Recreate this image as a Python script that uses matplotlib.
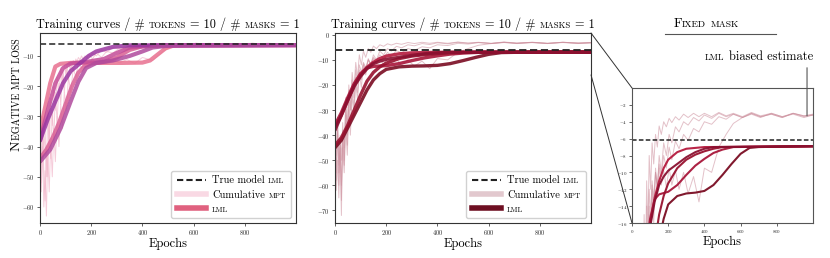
import numpy as np
import matplotlib
matplotlib.use("Agg")
import matplotlib.pyplot as plt
from matplotlib.lines import Line2D
from matplotlib.patches import ConnectionPatch
from matplotlib.offsetbox import TextArea, HPacker, DrawingArea, AnchoredOffsetbox

plt.rcParams['font.family'] = ['cmr10', 'DejaVu Serif']
plt.rcParams['mathtext.fontset'] = 'cm'
plt.rcParams['axes.formatter.use_mathtext'] = True

# ---------------- dati ----------------
true_lml = -6.2

# curve LML, pannello 1
lml1_ep = [[0, 20, 40, 60, 80, 120, 180, 250, 320, 400, 430, 460, 490, 520, 600, 999],
           [0, 25, 50, 75, 100, 125, 150, 175, 200, 250, 300, 350, 400, 500, 999],
           [0, 30, 60, 90, 120, 180, 250, 300, 350, 450, 999],
           [0, 30, 60, 90, 120, 155, 190, 220, 285, 350, 999],
           [0, 40, 80, 120, 150, 180, 220, 285, 350, 400, 440, 500, 999]]
lml1_val = [[-35, -27, -19, -13.5, -12.6, -12.3, -12.2, -12.3, -12.3, -12.2, -11.5, -9.5, -7.5, -6.6, -6.4, -6.4],
            [-44, -41, -37, -32, -26, -20, -15.5, -13.3, -12.5, -12, -10.5, -8, -6.8, -6.5, -6.4],
            [-38, -28, -19, -14, -12.5, -12, -11, -9, -7.2, -6.5, -6.4],
            [-38, -31, -25, -19, -15, -12.5, -10, -8.5, -7, -6.5, -6.4],
            [-45, -41, -34, -25, -18.5, -14, -12.3, -11.5, -10, -8.5, -7.2, -6.6, -6.4]]
lml1_col = ['#e8708f', '#d95f93', '#c44c98', '#9a36a0', '#b04a9c']

# curve LML, pannello 2 (e zoom)
lml2_ep = [[0, 25, 50, 75, 100, 125, 150, 175, 200, 250, 300, 350, 400, 999],
           [0, 25, 50, 75, 100, 125, 150, 200, 250, 300, 350, 400, 450, 500, 560, 999],
           [0, 25, 50, 75, 100, 125, 150, 175, 200, 250, 300, 350, 400, 450, 500, 550, 600, 650, 700, 999],
           [0, 25, 50, 75, 100, 125, 150, 175, 200, 250, 300, 350, 400, 450, 500, 999],
           [0, 25, 50, 75, 100, 125, 150, 175, 200, 250, 300, 350, 400, 450, 999]]
lml2_val = [[-37, -32, -26, -20, -16, -13, -11, -9.5, -8.5, -7.6, -7.2, -7.1, -7.0, -6.9],
            [-36, -31, -25, -19.5, -15.5, -13.2, -12.6, -12.3, -11.5, -10.3, -9.2, -8.4, -7.7, -7.3, -7.0, -6.9],
            [-45, -42, -37, -32, -27, -22, -18, -15.5, -13.8, -12.8, -12.5, -12.4, -12.2, -11.5, -10.3, -9, -7.8, -7.1, -7.0, -6.9],
            [-44, -41, -36, -30, -24, -18.5, -15, -12.8, -11.3, -9.5, -8.5, -7.9, -7.5, -7.2, -7.0, -6.9],
            [-38, -32, -26, -20.5, -16.5, -13.5, -11.5, -10.5, -9.8, -9, -8.2, -7.6, -7.2, -7.0, -6.9]]
lml2_col = ['#b51a3e', '#a8163a', '#7a0c22', '#98122f', '#8a1030']

# cumulative MPT (epoche comuni)
mpt_ep = [0, 5, 10, 15, 20, 25, 30, 36, 42, 48, 54, 60, 67, 74, 81, 88, 95, 103, 111, 120,
          130, 140, 150, 162, 175, 190, 205, 220, 240, 260, 285, 310, 340, 370, 400, 440,
          480, 520, 560, 610, 660, 710, 770, 830, 890, 950, 999]

mpt1 = [[-38, -52, -33, -48, -58, -40, -50, -30, -44, -28, -38, -22, -32, -19, -26, -15, -22, -13, -18, -12,
         -15, -11, -13, -10, -12, -9.5, -11, -9, -10.5, -8.5, -9, -7.5, -7.8, -6.8, -6.5, -6.2,
         -6.4, -5.9, -6.3, -5.8, -6.2, -5.9, -6.3, -5.8, -6.2, -5.9, -6.1],
        [-45, -55, -40, -60, -48, -63, -42, -55, -38, -50, -34, -45, -30, -40, -26, -34, -22, -28, -17, -22,
         -14, -17, -12, -14, -11.5, -13, -11, -12.5, -10.8, -12.5, -11, -12.3, -11.2, -12.5, -10.5, -11.5,
         -8.5, -6.5, -6.2, -5.8, -6.3, -5.9, -6.2, -5.8, -6.3, -5.9, -6.0],
        [-36, -46, -30, -42, -35, -50, -28, -40, -24, -33, -20, -28, -17, -24, -14, -20, -13, -16, -12, -14.5,
         -11.5, -13, -10.5, -12, -10, -11, -9, -10, -8, -8.8, -7.2, -7.6, -6.5, -6.8, -6.1, -6.4,
         -5.8, -6.2, -5.9, -6.3, -5.8, -6.2, -5.9, -6.3, -5.8, -6.1, -6.0]]

mpt2 = [[-40, -58, -35, -52, -45, -72, -38, -50, -25, -40, -20, -30, -15, -22, -11, -17, -8, -12, -6.5, -9,
         -5.5, -7, -4.5, -5.5, -4.0, -4.6, -3.6, -4.1, -3.4, -3.8, -3.1, -3.5, -3.0, -3.4, -3.0, -3.4,
         -2.9, -3.3, -3.0, -3.4, -2.9, -3.3, -3.0, -3.4, -3.0, -3.3, -3.1],
        [-45, -62, -50, -65, -42, -60, -45, -55, -35, -48, -30, -40, -24, -32, -19, -26, -15, -21, -12, -16,
         -9.5, -12, -8, -10, -6.5, -8, -5.5, -6.5, -4.6, -5.2, -4.0, -4.4, -3.5, -3.9, -3.2, -3.6,
         -3.0, -3.4, -3.1, -3.5, -3.0, -3.4, -3.1, -3.5, -3.0, -3.4, -3.2],
        [-38, -48, -33, -55, -40, -50, -35, -45, -28, -38, -22, -30, -18, -25, -14, -19, -12, -15, -11, -13,
         -10, -12, -9.5, -11.5, -9.8, -11.8, -9.5, -11.5, -9.8, -12, -10, -12.5, -10.5, -13.5, -9.5, -10,
         -7, -5.5, -4.2, -3.5, -3.1, -3.5, -3.0, -3.4, -3.1, -3.5, -3.2],
        [-42, -55, -38, -60, -44, -66, -40, -52, -32, -44, -26, -36, -21, -29, -17, -23, -14, -18, -11.5, -14,
         -10, -11.5, -9, -10.5, -8, -9.5, -7, -8.5, -6.3, -7.2, -5.5, -6.2, -4.8, -5.2, -4.0, -4.3,
         -3.4, -3.7, -3.1, -3.5, -3.0, -3.4, -3.1, -3.5, -3.0, -3.3, -3.2]]

mpt1_col = '#f2b6ca'
mpt2_col = '#cc8e9c'
leg1_cols = ['#f9d9e4', '#e0617f']
leg2_cols = ['#e2c8ce', '#6e0f22']

xticks = [0, 200, 400, 600, 800]

# ---------------- figura ----------------
W, H = 830, 258
fig = plt.figure(figsize=(W / 100, H / 100), dpi=100)
ax1 = fig.add_axes([40 / W, 35 / H, 256 / W, 190 / H])
ax2 = fig.add_axes([335 / W, 35 / H, 256 / W, 190 / H])
ax3 = fig.add_axes([632 / W, 35 / H, 181 / W, 135 / H])

SC = 0.72  # rapporto maiuscoletto


def spacer(size):
    return DrawingArea(size * 0.33, 1)


def sc_box(parts, size):
    # parts: lista di (testo, maiuscoletto?) ; None = spazio
    kids = []
    for p in parts:
        if p is None:
            kids.append(spacer(size))
        elif p[1]:
            kids.append(TextArea(p[0].upper(), textprops=dict(size=size * SC)))
        else:
            kids.append(TextArea(p[0], textprops=dict(size=size)))
    return HPacker(children=kids, pad=0, sep=0, align='baseline')


def put_box(box, x, y, transform, loc='lower center'):
    ab = AnchoredOffsetbox(loc=loc, child=box, pad=0, borderpad=0, frameon=False,
                           bbox_to_anchor=(x, y), bbox_transform=transform)
    return ab


title_parts = [("Training curves / #", 0), None, ("tokens", 1), None, ("= 10 / #", 0), None,
               ("masks", 1), None, ("= 1", 0)]
TSIZE = 8.8


def style_ax(ax, spine_col='#333333'):
    for s in ax.spines.values():
        s.set_color(spine_col)
        s.set_linewidth(0.8)
    ax.tick_params(labelsize=4.5, length=2, width=0.5, pad=1.5, colors='#222222')
    ax.set_xlim(0, 1000)
    ax.set_xticks(xticks)


# pannello 1
for ys in mpt1:
    ax1.plot(mpt_ep, ys, color=mpt1_col, lw=0.7, alpha=0.7)
for ep, ys, c in zip(lml1_ep, lml1_val, lml1_col):
    ax1.plot(ep, ys, color=c, lw=3, alpha=0.85, solid_capstyle='round')
ax1.axhline(true_lml, color='#222222', ls='--', lw=1.1, dashes=(4, 2))
ax1.set_ylim(-65.3, -2.4)
ax1.set_yticks([-10, -20, -30, -40, -50, -60])
style_ax(ax1)
ax1.add_artist(put_box(sc_box(title_parts, TSIZE), 0.5, 1.01, ax1.transAxes))
ax1.set_xlabel("Epochs", size=9, labelpad=1)

# pannello 2
for ys in mpt2:
    ax2.plot(mpt_ep, ys, color=mpt2_col, lw=0.7, alpha=0.55)
for ep, ys, c in zip(lml2_ep, lml2_val, lml2_col):
    ax2.plot(ep, ys, color=c, lw=2.4, alpha=0.9, solid_capstyle='round')
ax2.axhline(true_lml, color='#222222', ls='--', lw=1.3, dashes=(4, 2))
ax2.set_ylim(-75, 0.7)
ax2.set_yticks([0, -10, -20, -30, -40, -50, -60, -70])
style_ax(ax2)
ax2.add_artist(put_box(sc_box(title_parts, TSIZE), 0.5, 1.01, ax2.transAxes))
ax2.set_xlabel("Epochs", size=9, labelpad=1)

# pannello zoom
for ys in mpt2:
    ax3.plot(mpt_ep, ys, color=mpt2_col, lw=0.7, alpha=0.55)
for ep, ys, c in zip(lml2_ep, lml2_val, lml2_col):
    ax3.plot(ep, ys, color=c, lw=1.5, alpha=0.95)
ax3.axhline(true_lml, color='#222222', ls='--', lw=1.1, dashes=(3, 1.5))
ax3.set_ylim(-16, 0)
ax3.set_yticks([-2, -4, -6, -8, -10, -12, -14, -16])
style_ax(ax3, '#555555')
ax3.tick_params(labelsize=3.5)
ax3.set_xlabel("Epochs", size=9, labelpad=1)

# linee di collegamento zoom
fig.add_artist(ConnectionPatch((1, 1), (0, 1), coordsA=ax2.transAxes, coordsB=ax3.transAxes,
                               color='#333333', lw=0.7))
fig.add_artist(ConnectionPatch((1000, -16), (0, 0), coordsA=ax2.transData, coordsB=ax3.transAxes,
                               color='#333333', lw=0.7))

# titolo "Fixed mask" con riga sotto
fig.add_artist(put_box(sc_box([("F", 0), ("ixed", 1), None, ("mask", 1)], 9.5), 706 / W, 1 - 30 / H,
                       fig.transFigure))
fig.add_artist(Line2D([665 / W, 776 / W], [1 - 34 / H, 1 - 34 / H], color='#555555', lw=0.8,
                      transform=fig.transFigure))

# annotazione LML biased estimate
fig.add_artist(put_box(sc_box([("lml", 1), None, ("biased estimate", 0)], 9), 759 / W, 1 - 63 / H,
                       fig.transFigure))
ax3.annotate('', xy=(967, -3.3), xycoords='data', xytext=(967, 1.15),
             textcoords=('data', 'axes fraction'), annotation_clip=False,
             arrowprops=dict(arrowstyle='-', color='#555555', lw=0.8, shrinkA=0, shrinkB=0))


# legende
def make_legend(ax, cols):
    fs = 7.5
    handles = [Line2D([], [], color='#222222', ls='--', lw=1.5, dashes=(3, 1.5)),
               Line2D([], [], color=cols[0], lw=4),
               Line2D([], [], color=cols[1], lw=4)]
    leg = ax.legend(handles, ["True model", "Cumulative", "LML"], loc='lower right', fontsize=fs,
                    handlelength=2.8, handletextpad=0.6, labelspacing=0.45, borderpad=0.5,
                    framealpha=0.9, edgecolor='#cccccc', fancybox=True)
    leg.texts[2].set_fontsize(fs * SC)
    extra = {0: "LML", 1: "MPT"}
    for col in leg._legend_handle_box.get_children():
        for i, entry in enumerate(col.get_children()):
            kids = entry.get_children()
            gap = DrawingArea(0.6 * fs, 1)
            gap.set_figure(fig)
            kids.insert(1, gap)
            entry.sep = 0
            if i in extra:
                sp = spacer(fs)
                ta = TextArea(extra[i], multilinebaseline=True, textprops=dict(size=fs * SC))
                sp.set_figure(fig)
                ta.set_figure(fig)
                kids.append(sp)
                kids.append(ta)
    return leg


make_legend(ax1, leg1_cols)
make_legend(ax2, leg2_cols)

# etichetta asse y in maiuscoletto
fig.canvas.draw()
r = fig.canvas.get_renderer()
x0, y0 = 20 / W, 107 / H
t1 = fig.text(x0, y0, "N", rotation=90, rotation_mode='anchor', ha='left', va='baseline', size=10)
bb = t1.get_window_extent(r)
fig.text(x0, y0 + bb.height / H, "EGATIVE MPT LOSS", rotation=90, rotation_mode='anchor',
         ha='left', va='baseline', size=10 * SC)

fig.savefig("out.png", dpi=100)
